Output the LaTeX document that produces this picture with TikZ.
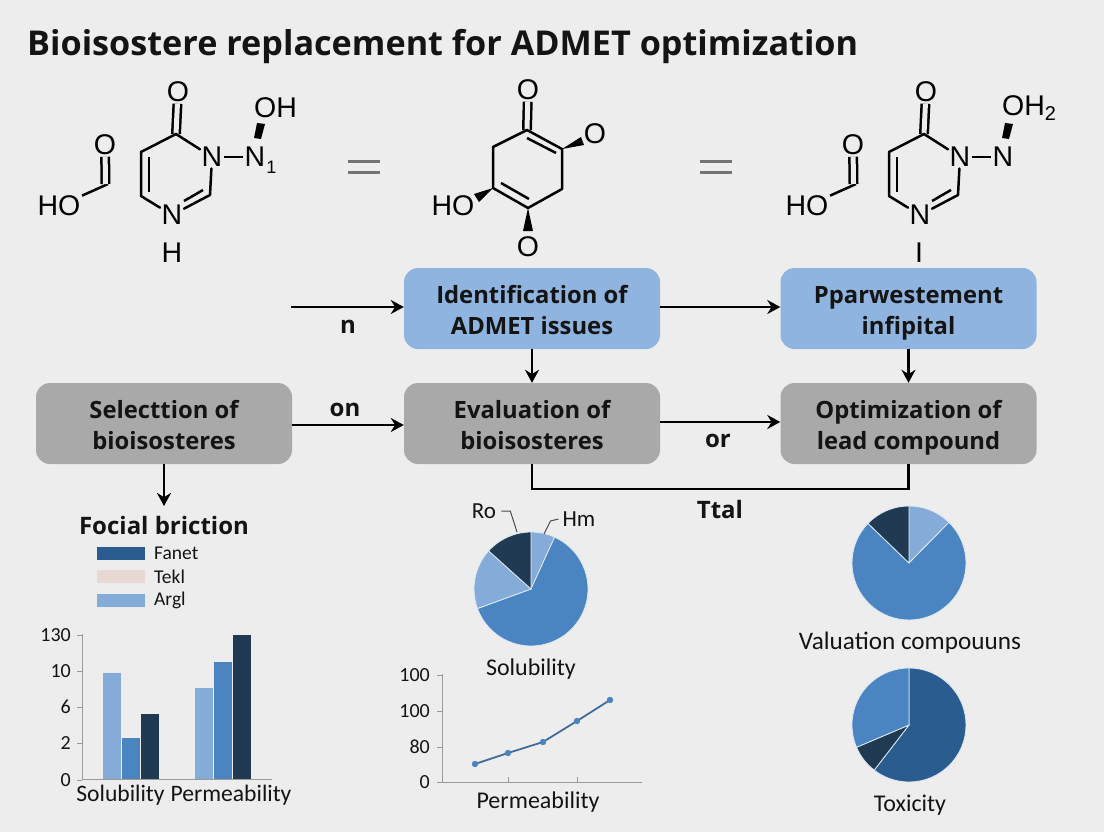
\documentclass[tikz,border=0pt]{standalone}
\usepackage{fontspec}
\setmainfont{Open Sans}
\newfontfamily\chemfont{Liberation Sans}
\newfontfamily\chartfont{Carlito}
\usetikzlibrary{positioning,arrows.meta,calc}

\definecolor{pagegrey}{HTML}{EDEDED}
\definecolor{boxblue}{HTML}{8FB4DF}
\definecolor{boxgrey}{HTML}{A9A9A9}
\definecolor{inktext}{HTML}{141414}
\definecolor{paleblue}{HTML}{85ABD9}
\definecolor{midblue}{HTML}{4A84C1}
\definecolor{deepblue}{HTML}{2B5C90}
\definecolor{navyblue}{HTML}{1F3A52}
\definecolor{paleblush}{HTML}{E8D8D4}
\definecolor{axisgrey}{HTML}{9A9A9A}
\definecolor{sliceline}{HTML}{DCE9F6}

\begin{document}
\begin{tikzpicture}[
  x=1pt,y=-1pt,>={Stealth[length=13pt,width=14pt]},
  font=\fontsize{20}{24}\selectfont,
  stepbox/.style={rectangle,rounded corners=14pt,minimum width=256pt,minimum height=81pt,
    align=center,text=inktext,inner sep=0pt,font=\fontsize{23.8}{30.5}\selectfont\bfseries},
  bluebox/.style={stepbox,fill=boxblue},
  greybox/.style={stepbox,fill=boxgrey},
  flow/.style={black,line width=2.4pt},
  flowlabel/.style={text=inktext,inner sep=0pt,font=\fontsize{24}{28}\selectfont\bfseries},
  bond/.style={black,line width=2.5pt},
  dblbond/.style={double=pagegrey,double distance=5pt,line width=2.5pt,draw=black},
  atom/.style={inner sep=1.5pt,text=black,font=\fontsize{28.5}{32}\selectfont\chemfont},
  eqbar/.style={draw=black!55,line width=3pt},
  chartaxis/.style={draw=axisgrey,line width=1pt},
  charttext/.style={text=inktext,inner sep=0pt,font=\fontsize{24}{28}\selectfont\chartfont},
  ticktext/.style={text=inktext,inner sep=0pt,anchor=east,font=\fontsize{20}{24}\selectfont\chartfont},
  keytext/.style={text=inktext,inner sep=0pt,anchor=west,font=\fontsize{19.5}{22}\selectfont\chartfont}
]
\useasboundingbox (0,0) rectangle (1104,832);
\fill[pagegrey] (0,0) rectangle (1104,832);

\node[anchor=base west,inner sep=0pt,text=inktext,font=\fontsize{34.2}{40}\selectfont\bfseries] (title)
  at (27,56) {Bioisostere replacement for ADMET optimization};

% The two ring molecules only differ in what hangs on them.
\foreach \molshift in {0,748} {
\begin{scope}[xshift=\molshift pt]
  \coordinate (ca\molshift) at (176,134);
  \coordinate (cb\molshift) at (141,152);
  \coordinate (cc\molshift) at (141,196);
  \coordinate (cd\molshift) at (210,195);
  \coordinate (ce\molshift) at (108,184);
  \node[atom] (oxo\molshift) at (178,92) {O};
  \node[atom] (na\molshift) at (212,157) {N};
  \node[atom] (nb\molshift) at (172,215) {N};
  \node[atom] (nc\molshift) at (255,157) {N};
  \node[atom] (ho\molshift) at (59,206) {HO};
  \node[atom] (acid\molshift) at (105,145) {O};
  \draw[dblbond] (ca\molshift) -- (oxo\molshift);
  \draw[bond,line cap=round,line join=round] (na\molshift) -- (ca\molshift) -- (cb\molshift) -- (cc\molshift) -- (nb\molshift);
  \draw[bond,line cap=round] (na\molshift) -- (cd\molshift);
  \draw[bond,line cap=round] (cd\molshift) -- (nb\molshift);
  \draw[bond] (149,157) -- (149,192);
  \draw[bond] (203,190) -- (184,201);
  \draw[bond] (na\molshift) -- (nc\molshift);
  \fill[black] (254,138) -- (261,139) -- (265,124) -- (257,123) -- cycle;
  \draw[bond] (ho\molshift) -- (ce\molshift);
  \draw[dblbond] (105.5,184) -- (acid\molshift);
\end{scope}
}
\node[atom,inner sep=0pt,anchor=west] (hydroxa) at (254,108) {OH};
\node[inner sep=0pt,text=black,font=\fontsize{18}{20}\selectfont\chemfont] (nsub) at (271.5,167) {1};
\node[atom] (hydroa) at (172,253) {H};
\node[atom,inner sep=0pt,anchor=west] (hydroxc) at (1002,108) {OH\textsubscript{2}};
\node[atom] (hydroc) at (919,253) {I};

% middle molecule
\coordinate (qa) at (527,130);
\coordinate (qb) at (562,149);
\coordinate (qc) at (562,189);
\coordinate (qd) at (528,208);
\coordinate (qe) at (493,188);
\coordinate (qf) at (493,147);
\node[atom] (qtop) at (528,90) {O};
\node[atom] (qright) at (595,134) {O};
\node[atom] (qleft) at (453,206) {HO};
\node[atom] (qlow) at (528,247) {O};
\draw[dblbond] (qa) -- (qtop);
\draw[bond,line join=round,line cap=round] (qa) -- (qb) -- (qc) -- (qd) -- (qe) -- (qf) -- cycle;
\draw[bond] (527,138) -- (556,153);
\draw[bond] (501,183) -- (529,199);
\fill[black] (qb) -- (581,137) -- (584,145) -- cycle;
\fill[black] (qe) -- (474,194) -- (479,202) -- cycle;
\fill[black] (qd) -- (523,231) -- (533,231) -- cycle;

% equal signs between the molecules
\foreach \eqx in {348,700} {
  \draw[eqbar] (\eqx,162) -- ++(32,0);
  \draw[eqbar] (\eqx,173) -- ++(32,0);
}

% flow boxes
\node[bluebox] (identify) at (532,308.5) {\rule{0pt}{21pt}Identification of\\\smash{ADMET issues}};
\node[bluebox] (parwest) at (908.5,308.5) {\rule{0pt}{21pt}Pparwestement\\\smash{infipital}};
\node[greybox] (select) at (164,423.5) {\rule{0pt}{21pt}Selecttion of\\\smash{bioisosteres}};
\node[greybox] (evaluate) at (532,423.5) {\rule{0pt}{21pt}Evaluation of\\\smash{bioisosteres}};
\node[greybox] (optimize) at (908.5,423.5) {\rule{0pt}{21pt}Optimization of\\\smash{lead compound}};

\coordinate (flowstart) at (291,307);
\coordinate (focustip) at (164,506);
\draw[flow,->] (flowstart) -- (flowstart -| identify.west);
\draw[flow,->] ([yshift=1.5pt]identify.east) -- ([yshift=1.5pt]parwest.west);
\draw[flow,->] (identify) -- (evaluate);
\draw[flow,->] (parwest) -- (optimize);
\draw[flow,->] ([yshift=-1.5pt]select.east) -- ([yshift=-1.5pt]evaluate.west);
\draw[flow,->] ([yshift=1.5pt]evaluate.east) -- ([yshift=1.5pt]optimize.west);
\draw[flow,->] (select) -- (focustip);
\draw[flow] (evaluate.south) -- ++(0,25) -| (optimize.south);
\node[flowlabel] (lbln) at (348,327) {n};
\node[flowlabel] (lblon) at (345,410) {on};
\node[flowlabel] (lblor) at (718,441) {or};
\node[flowlabel] (lbltotal) at (720,509) {Ttal};

% bar chart and its key
\node[inner sep=0pt,text=inktext,font=\fontsize{24}{28}\selectfont\bfseries] (focal) at (164,525) {Focial briction};
\foreach \keyy/\tone/\keyname in {553.5/deepblue/Fanet,576.5/paleblush/Tekl,600.5/paleblue/Argl} {
  \fill[\tone] (97,\keyy-6.5) rectangle (145,\keyy+6.5);
  \node[keytext] (key\keyname) at (154,\keyy) {\keyname};
}
\draw[chartaxis] (82,634) -- (82,779) -- (272,779);
\foreach \ticky/\ticktxt in {635/130,671/10,707/6,743/2,780/0} {
  \draw[chartaxis] (77,\ticky) -- (82,\ticky);
  \node[ticktext] (bartick\ticky) at (71,\ticky) {\ticktxt};
}
\foreach \barx/\bartop/\tone in {103/673/paleblue,122/738/midblue,141/714/navyblue,
    195/688/paleblue,214/662/midblue,233/635/navyblue} {
  \fill[\tone] (\barx,\bartop) rectangle (\barx+18,779);
}
\node[charttext,font=\fontsize{23.6}{28}\selectfont\chartfont] (barsol) at (120.5,795) {Solubility};
\node[charttext,font=\fontsize{23.6}{28}\selectfont\chartfont] (barperm) at (231,795) {Permeability};

% the three pies, slices given in plain degrees
\begin{scope}[shift={(531,589)},x=1pt,y=1pt]
  \foreach \from/\to/\tone in {90/65.5/paleblue,65.5/-160/midblue,200/138/paleblue,138/90/navyblue} {
    \filldraw[fill=\tone,draw=sliceline,line width=.8pt] (0,0) -- (\from:57) arc (\from:\to:57) -- cycle;
  }
\end{scope}
\begin{scope}[shift={(909,563)},x=1pt,y=1pt]
  \foreach \from/\to/\tone in {90/45.5/paleblue,45.5/-224/midblue,136/90/navyblue} {
    \filldraw[fill=\tone,draw=sliceline,line width=.8pt] (0,0) -- (\from:57) arc (\from:\to:57) -- cycle;
  }
\end{scope}
\begin{scope}[shift={(909,725)},x=1pt,y=1pt]
  \foreach \from/\to/\tone in {90/-127.6/deepblue,232.4/203/navyblue,203/90/midblue} {
    \filldraw[fill=\tone,draw=sliceline,line width=.8pt] (0,0) -- (\from:57) arc (\from:\to:57) -- cycle;
  }
\end{scope}
\node[charttext,font=\fontsize{23}{26}\selectfont\chartfont] (rolabel) at (484,511) {Ro};
\node[charttext,font=\fontsize{23}{26}\selectfont\chartfont] (hmlabel) at (579,519) {Hm};
\coordinate (roslice) at (517,532);
\coordinate (hmslice) at (544,534);
\draw[black!70,line width=1pt] (rolabel.east) ++(5,0) -- ++(9,0) -- (roslice);
\draw[black!70,line width=1pt] (hmlabel.west) ++(-4,0) -- ++(-8,2) -- (hmslice);
\node[charttext] (piesol) at (531,669) {Solubility};
\node[charttext,font=\fontsize{25.2}{28}\selectfont\chartfont] (pieval) at (910,643) {Valuation compouuns};
\node[charttext] (pietox) at (910,805) {Toxicity};

% line chart
\draw[chartaxis] (442,674) -- (442,782) -- (642,782);
\foreach \ticky/\ticktxt in {675/100,711/100,747/80,782/0} {
  \draw[chartaxis] (437,\ticky) -- (442,\ticky);
  \node[ticktext] (linetick\ticky) at (430,\ticky) {\ticktxt};
}
\foreach \tickx in {508,577} {
  \draw[chartaxis] (\tickx,782) -- (\tickx,777);
}
\draw[deepblue!90,line width=1.8pt] (475,764) -- (508,753) -- (543,742) -- (577,721) -- (610,700);
\foreach \ptx/\pty in {475/764,508/753,543/742,577/721,610/700} {
  \fill[midblue] (\ptx,\pty) circle (3.2pt);
}
\node[charttext] (lineperm) at (538,802) {Permeability};
\end{tikzpicture}
\end{document}
